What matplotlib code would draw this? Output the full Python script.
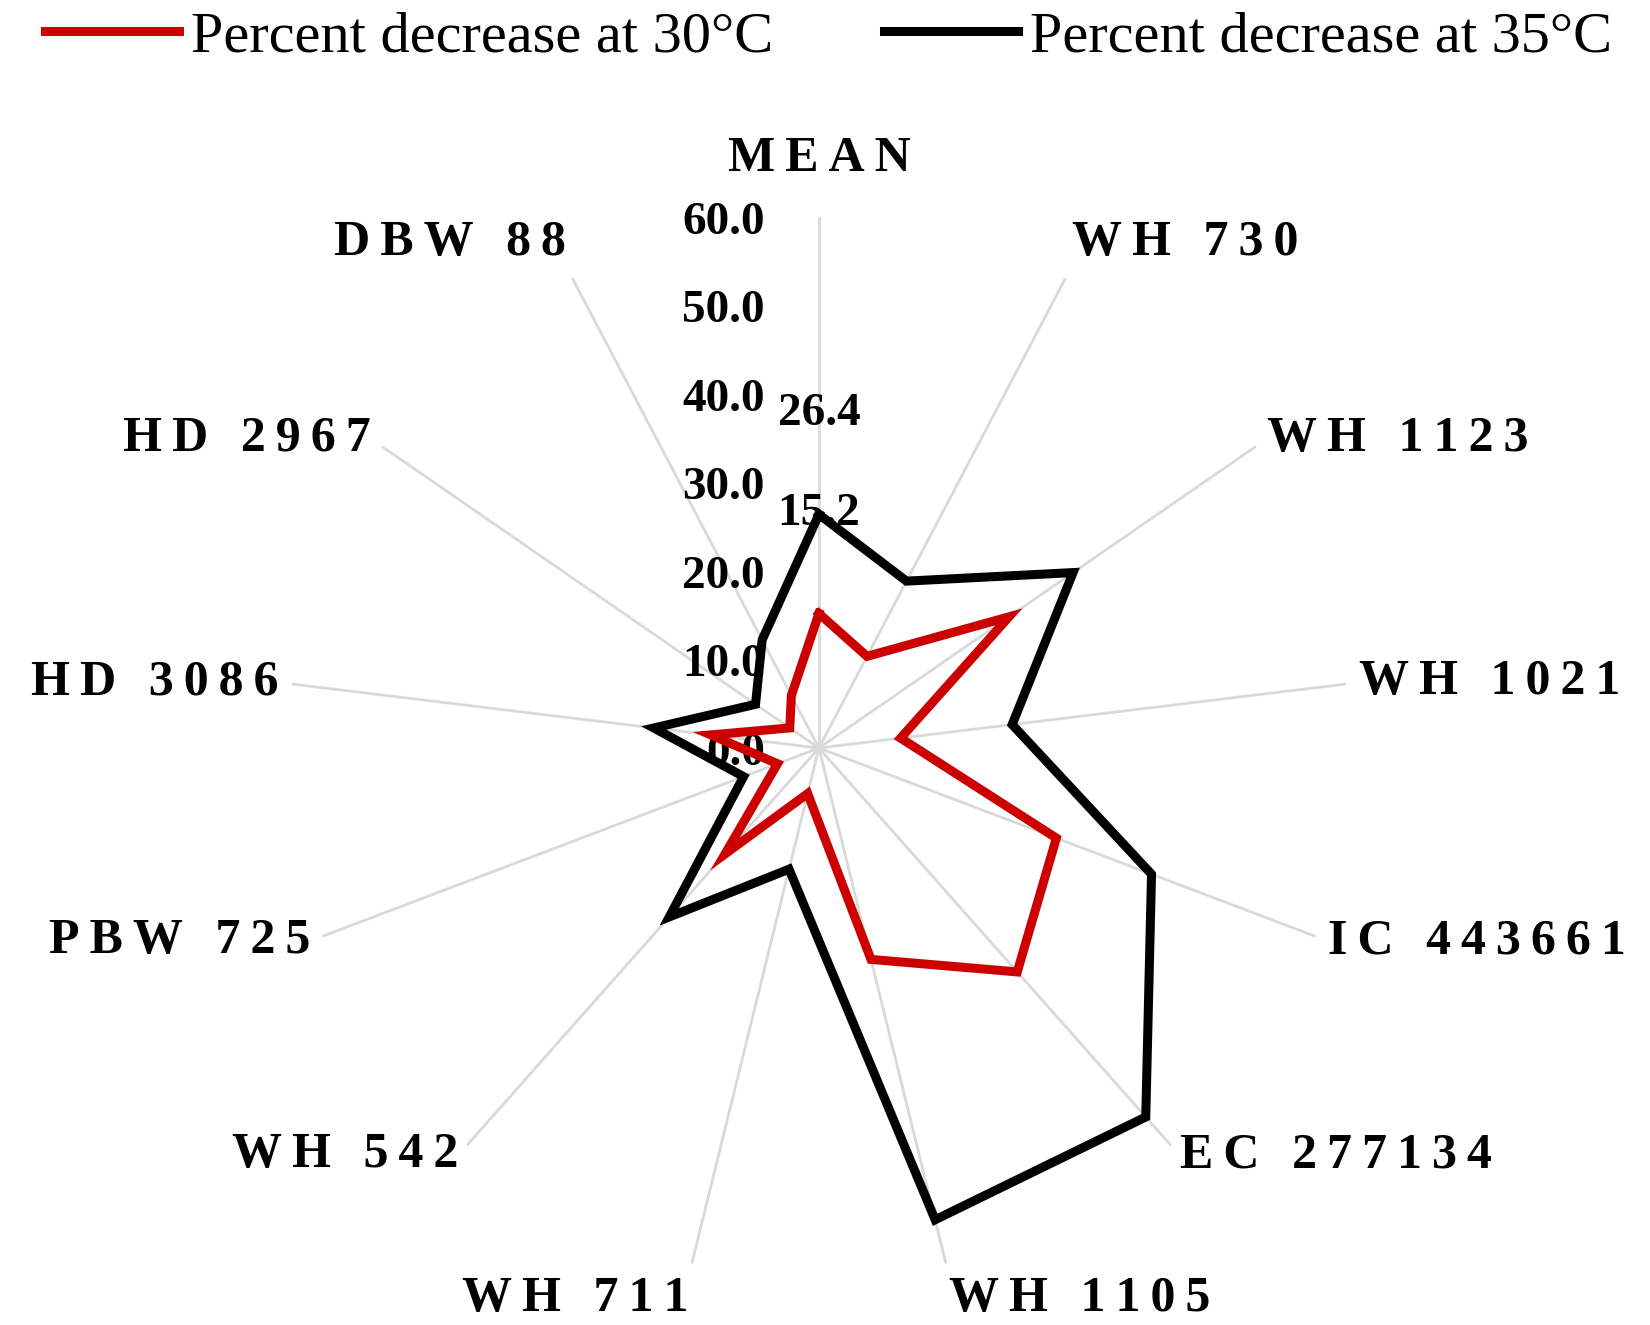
import numpy as np
import matplotlib.pyplot as plt

plt.rcParams['font.family'] = ['Liberation Serif', 'DejaVu Serif']

# data
categories = ['MEAN', 'WH 730', 'WH 1123', 'WH 1021', 'IC 443661', 'EC 277134',
              'WH 1105', 'WH 711', 'WH 542', 'PBW 725', 'HD 3086', 'HD 2967', 'DBW 88']
dec_30 = [15.2, 11.7, 26.1, 9.3, 28.7, 33.8, 24.6, 5.3, 16.0, 5.0, 12.3, 4.0, 6.7]
dec_35 = [26.4, 21.3, 34.9, 22.0, 40.2, 55.7, 54.9, 14.1, 25.5, 9.1, 18.8, 8.7, 13.8]
r_ticks = [0, 10, 20, 30, 40, 50, 60]

n = len(categories)
angles = np.arange(n) * 2 * np.pi / n
ang_closed = np.append(angles, angles[0])

fig = plt.figure(figsize=(16.5, 13.25), dpi=100)
ax = fig.add_axes([0.1745, 0.0347, 0.6436, 0.8015], projection='polar')
ax.set_theta_zero_location('N')
ax.set_theta_direction(-1)
ax.set_ylim(0, 60)

# spokes only
ax.set_xticks(angles)
ax.set_xticklabels([])
ax.set_yticks([])
ax.xaxis.grid(True, color='#d9d9d9', lw=2)
ax.yaxis.grid(False)
ax.spines['polar'].set_visible(False)

l30, = ax.plot(ang_closed, np.append(dec_30, dec_30[0]), color='#cc0000', lw=6.5,
               zorder=3, solid_joinstyle='miter', label='Percent decrease at 30°C')
l35, = ax.plot(ang_closed, np.append(dec_35, dec_35[0]), color='black', lw=6.5,
               zorder=4, solid_joinstyle='miter', label='Percent decrease at 35°C')

# radial tick labels along the MEAN spoke
for v in r_ticks:
    ax.annotate(f'{v:.1f}', xy=(0, v), xytext=(-39, -4), textcoords='offset points',
                ha='right', va='center', fontsize=34, fontweight='bold', zorder=2.5)

# data labels for the MEAN values
for vals in [dec_35, dec_30]:
    ax.annotate(f'{vals[0]:.1f}', xy=(0, vals[0]), xytext=(0, 72), textcoords='offset points',
                ha='center', va='center', fontsize=34, fontweight='bold', zorder=2.5)

# category labels, letter-spaced
for i, name in enumerate(categories):
    a = angles[i]
    s, c = np.sin(a), np.cos(a)
    ha = 'left' if s > 0.1 else ('right' if s < -0.1 else 'center')
    va = 'bottom' if c > 0.8 else ('top' if c < -0.8 else 'center')
    r = 64 if i == 0 else 61.5
    ax.text(a, r, '\u2009'.join(name), ha=ha, va=va, fontsize=36, fontweight='bold')

fig.legend(handles=[l30, l35], loc='center', bbox_to_anchor=(0.502, 0.972), ncol=2,
           frameon=False, fontsize=42, handlelength=2.3, handletextpad=0.2,
           columnspacing=1.9, borderpad=0, borderaxespad=0)

fig.savefig('out.png', dpi=100, facecolor='white')
